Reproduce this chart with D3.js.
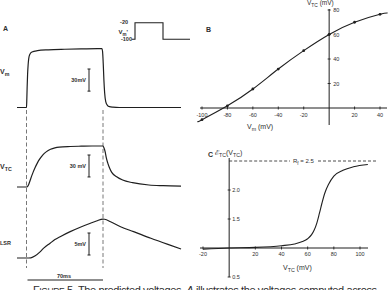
<!DOCTYPE html>
<html>
<head>
<meta charset="utf-8">
<script src="https://d3js.org/d3.v7.min.js"></script>
<style>
body { margin: 0; background: #fff; }
svg { display: block; }
text { font-family: "Liberation Sans", Arial, sans-serif; fill: #2e2e2e; }
</style>
</head>
<body>
<script>
// ---- data ----

// panel A: membrane voltage Vm (ms, mV)
var vmTime  = [-8.7, 0, 0.3, 0.6, 1, 1.5, 2, 3, 5, 10, 20, 35, 50, 65, 69, 69.6, 70.2, 70.8, 71.5, 72.5, 74, 76, 79, 85, 100, 141.4];
var vmVolts = [-100, -100, -88, -72, -55, -42, -34, -28, -24.8, -23, -21.8, -21, -20.5, -20.2, -20.1, -24, -40, -62, -80, -92, -97, -98.8, -99.5, -100, -100, -100];

// panel A: T-system voltage VTC
var vtcTime  = [-8.7, 0, 1, 2, 3, 4, 6, 8, 10, 12, 15, 18, 22, 26, 30, 40, 50, 60, 70, 71, 72, 73, 74.3, 76, 78, 82.5, 88, 97, 112, 125, 141.4];
var vtcVolts = [-9, -9, -8, -5.5, -1.5, 3, 11, 18, 24, 29, 35, 39, 42.5, 44.5, 45.5, 46.3, 46.7, 47, 47, 44, 39, 31, 24, 17, 11, 5, 0.5, -3.1, -6.3, -7.2, -7.7];

// panel A: voltage across SR (relative, mV)
var lsrTime = [-8.7, 0, 4, 8, 12.4, 16, 21.6, 26, 30.8, 40, 49.2, 58.5, 64, 70, 71.5, 76.9, 86.1, 98, 113.8, 129.4, 141.4];
var lsrMv   = [0, 0, 0.05, 0.5, 1.4, 2.3, 3.35, 4.2, 4.85, 6.0, 7.0, 7.9, 8.4, 8.85, 8.8, 8.25, 7.1, 6.0, 4.5, 3.1, 2.05];

// inset: command step
var stepTime  = [-8, 0, 70, 137.5];
var stepVolts = [-100, -20, -100, -100];

// panel B: VTC against Vm
var bVm  = [-100, -80, -60, -40, -20, 0, 20, 40];
var bVtc = [-9.5, 1.8, 15.5, 31.8, 46.8, 60, 70, 76.5];
var bCurveVm  = [-103, -100, -80, -60, -40, -20, 0, 20, 40, 46];
var bCurveVtc = [-11, -9.5, 1.8, 15.5, 31.8, 46.8, 60, 70, 76.5, 77.5];
var bXTicks = [-100, -80, -60, -40, -20, 20, 40];
var bYTicks = [20, 40, 60, 80];

// panel C: E_TC against VTC
var cVtc = [-20, 0, 20, 40, 50, 56, 60, 63, 65, 67, 69, 71, 73, 76, 80, 87, 95, 106];
var cE   = [0.98, 1.0, 1.01, 1.04, 1.07, 1.11, 1.16, 1.23, 1.31, 1.43, 1.6, 1.78, 1.94, 2.1, 2.24, 2.34, 2.4, 2.44];
var cXTicks = [-20, 20, 40, 60, 80, 100];
var cYTicks = [2.0, 1.5, 0.5];
var rf = 2.5;

var ink = "#1f1f1f";

var svg = d3.select("body").append("svg")
    .attr("width", 388)
    .attr("height", 290);

// label with a subscript, e.g. V_TC
function subLabel(x, y, main, sub, rest, size, anchor) {
    var t = svg.append("text")
        .attr("x", x)
        .attr("y", y)
        .attr("font-size", size)
        .attr("text-anchor", anchor || "start");
    t.append("tspan").text(main);
    t.append("tspan").attr("dy", size * 0.3).attr("font-size", size * 0.75).text(sub);
    if (rest) t.append("tspan").attr("dy", -size * 0.3).text(rest);
    return t;
}

function line(x1, y1, x2, y2, w) {
    return svg.append("line")
        .attr("x1", x1).attr("y1", y1).attr("x2", x2).attr("y2", y2)
        .attr("stroke", ink).attr("stroke-width", w || 1);
}

// ================= PANEL A =================
var tScale = d3.scaleLinear().domain([0, 70]).range([26.5, 103]);
var vmScale = d3.scaleLinear().domain([-100, -20]).range([107.5, 48.5]);
var vtcScale = d3.scaleLinear().domain([-9, 47]).range([187, 146]);
var lsrScale = d3.scaleLinear().domain([0, 5]).range([258, 236]);

function trace(times, vals, yScale) {
    var pts = times.map(function(t, i) { return [tScale(t), yScale(vals[i])]; });
    svg.append("path")
        .attr("d", d3.line().curve(d3.curveMonotoneX)(pts))
        .attr("fill", "none")
        .attr("stroke", ink)
        .attr("stroke-width", 1.2);
}

// dashed markers of step on / off
[0, 70].forEach(function(t) {
    line(tScale(t), 110, tScale(t), 268, 0.8)
        .attr("stroke", "#555")
        .attr("stroke-dasharray", "4,2.5");
});

trace(vmTime, vmVolts, vmScale);
trace(vtcTime, vtcVolts, vtcScale);
trace(lsrTime, lsrMv, lsrScale);

// vertical scale bars
function scaleBar(x, top, len, label) {
    line(x, top, x, top + len, 1);
    line(x - 1.5, top, x + 1.5, top, 1);
    line(x - 1.5, top + len, x + 1.5, top + len, 1);
    svg.append("text")
        .attr("x", x - 3)
        .attr("y", top + len / 2 + 2)
        .attr("text-anchor", "end")
        .attr("font-size", 5.5)
        .attr("font-weight", "bold")
        .text(label);
}
scaleBar(89, 69, vmScale(-100) - vmScale(-70), "30mV");
scaleBar(89, 155, vtcScale(-9) - vtcScale(21), "30 mV");
scaleBar(89, 233, lsrScale(0) - lsrScale(5), "5mV");

// time bar
line(tScale(0) + 1, 280, tScale(70), 280, 1);
svg.append("text")
    .attr("x", 64).attr("y", 278)
    .attr("text-anchor", "middle")
    .attr("font-size", 5.5)
    .attr("font-weight", "bold")
    .text("70ms");

// panel letters / trace names
svg.append("text").attr("x", 3).attr("y", 31).attr("font-size", 7).attr("font-weight", "bold").text("A");
subLabel(0, 74, "V", "m", null, 7).attr("font-weight", "bold");
subLabel(0, 169, "V", "TC", null, 7).attr("font-weight", "bold");
svg.append("text").attr("x", 0).attr("y", 245).attr("font-size", 5.5).attr("font-weight", "bold").text("LSR");

// inset command step
var iT = d3.scaleLinear().domain([0, 70]).range([135, 163]);
var iV = d3.scaleLinear().domain([-100, -20]).range([39.3, 22.7]);
svg.append("path")
    .attr("d", d3.line().curve(d3.curveStepAfter)
        .x(function(d, i) { return iT(stepTime[i]); })
        .y(function(d, i) { return iV(stepVolts[i]); })(stepTime))
    .attr("fill", "none")
    .attr("stroke", ink)
    .attr("stroke-width", 1.1);
svg.append("text").attr("x", 128).attr("y", iV(-20) + 1.5).attr("text-anchor", "end").attr("font-size", 5.5).attr("font-weight", "bold").text("-20");
subLabel(128, 34, "V", "m", "'", 6, "end").attr("font-weight", "bold");
svg.append("text").attr("x", 132).attr("y", iV(-100) + 2).attr("text-anchor", "end").attr("font-size", 5.5).attr("font-weight", "bold").text("-100");

// ================= PANEL B =================
var bx = d3.scaleLinear().domain([-100, 40]).range([202, 380]);
var by = d3.scaleLinear().domain([0, 80]).range([108, 10]);

line(200, by(0), 387, by(0), 1);
line(bx(0), 9, bx(0), 125, 1);

bXTicks.forEach(function(v) {
    line(bx(v), by(0) - 1.5, bx(v), by(0) + 1.5, 0.9);
    svg.append("text")
        .attr("x", bx(v)).attr("y", by(0) + 9)
        .attr("text-anchor", "middle")
        .attr("font-size", 5.5)
        .text(String(v));
});
bYTicks.forEach(function(v) {
    line(bx(0) - 1.5, by(v), bx(0) + 1.5, by(v), 0.9);
    svg.append("text")
        .attr("x", bx(0) + 4).attr("y", by(v) + 2)
        .attr("font-size", 5.5)
        .text(String(v));
});

svg.append("path")
    .attr("d", d3.line().curve(d3.curveNatural)
        .x(function(d, i) { return bx(bCurveVm[i]); })
        .y(function(d, i) { return by(bCurveVtc[i]); })(bCurveVm))
    .attr("fill", "none")
    .attr("stroke", ink)
    .attr("stroke-width", 1.1);

svg.selectAll(".bdot")
    .data(bVm)
    .enter()
    .append("circle")
    .attr("class", "bdot")
    .attr("cx", function(d) { return bx(d); })
    .attr("cy", function(d, i) { return by(bVtc[i]); })
    .attr("r", 1.4)
    .attr("fill", ink);

svg.append("text").attr("x", 206).attr("y", 32).attr("font-size", 7).attr("font-weight", "bold").text("B");
subLabel(307, 5, "V", "TC", "  (mV)", 6.5);
subLabel(247, 129, "V", "m", "  (mV)", 7);

// ================= PANEL C =================
var cx = d3.scaleLinear().domain([-20, 100]).range([203, 360]);
var cy = d3.scaleLinear().domain([0.5, 2.5]).range([277, 161]);

line(200, cy(1), 368, cy(1), 1);
line(cx(0), 158, cx(0), 277, 1);

cXTicks.forEach(function(v) {
    line(cx(v), cy(1) - 1.5, cx(v), cy(1) + 1.5, 0.9);
    svg.append("text")
        .attr("x", cx(v)).attr("y", cy(1) + 8)
        .attr("text-anchor", "middle")
        .attr("font-size", 5.5)
        .text(String(v));
});
cYTicks.forEach(function(v) {
    line(cx(0) - 1.5, cy(v), cx(0) + 1.5, cy(v), 0.9);
    svg.append("text")
        .attr("x", cx(0) + 3).attr("y", cy(v) + 2)
        .attr("font-size", 5.5)
        .text(v.toFixed(1));
});

// Rf asymptote
line(cx(0), cy(rf), 290, cy(rf), 0.8).attr("stroke-dasharray", "3,2");
line(318, cy(rf), 377, cy(rf), 0.8).attr("stroke-dasharray", "3,2");
subLabel(293, cy(rf) + 2, "R", "f", " = 2.5", 6);

svg.append("path")
    .attr("d", d3.line().curve(d3.curveMonotoneX)
        .x(function(d, i) { return cx(cVtc[i]); })
        .y(function(d, i) { return cy(cE[i]); })(cVtc))
    .attr("fill", "none")
    .attr("stroke", ink)
    .attr("stroke-width", 1.1);

svg.append("text").attr("x", 208).attr("y", 157).attr("font-size", 7).attr("font-weight", "bold").text("C");
var et = subLabel(215, 155, "\u2130", "TC", "(V", 7);
et.append("tspan").attr("dy", 2.1).attr("font-size", 5.25).text("TC");
et.append("tspan").attr("dy", -2.1).text(")");
subLabel(283, 270, "V", "TC", "  (mV)", 7);

// caption (cut off by the bottom edge)
var cap = svg.append("text")
    .attr("x", 33).attr("y", 293.5)
    .attr("font-family", "Liberation Serif, serif")
    .attr("font-size", 11)
    .attr("textLength", 344)
    .attr("lengthAdjust", "spacing");
cap.append("tspan").text("F");
cap.append("tspan").attr("font-size", 8.5).text("IGURE");
cap.append("tspan").text(" 5.   The predicted voltages.  ");
cap.append("tspan").attr("font-style", "italic").text("A");
cap.append("tspan").text(" illustrates the voltages computed across");
</script>
</body>
</html>
